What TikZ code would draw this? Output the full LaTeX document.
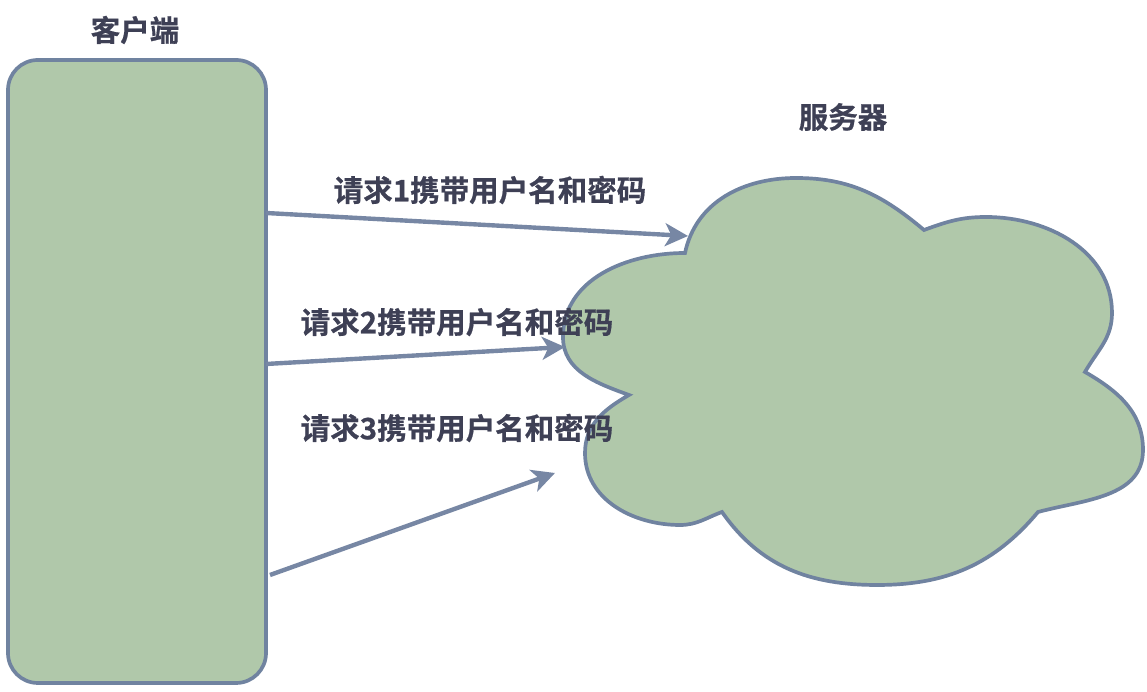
\documentclass[tikz,border=0pt]{standalone}
\usepackage{fontspec}
\setmainfont{Noto Sans CJK SC}[BoldFont={Noto Sans CJK SC Bold}]
\newfontfamily\cjk{Noto Sans CJK SC}[BoldFont={Noto Sans CJK SC Bold},BoldFeatures={FakeBold=0.6}]
\usetikzlibrary{arrows.meta}
\definecolor{boxfill}{HTML}{B0C8AA}
\definecolor{boxline}{HTML}{7083A0}
\definecolor{arrowc}{HTML}{7787A4}
\definecolor{txt}{HTML}{3E4055}
\begin{document}
\begin{tikzpicture}[x=0.02cm,y=0.02cm,
  lbl/.style={font=\cjk\bfseries\fontsize{16.8pt}{18pt}\selectfont, text=txt, inner sep=0pt},
  client/.style={draw=boxline, fill=boxfill, line width=2.1pt, rounded corners=17pt, minimum width=258*0.02cm, minimum height=623*0.02cm, inner sep=0pt},
  cloudsty/.style={draw=boxline, fill=boxfill, line width=2.1pt, line join=miter},
  req/.style={draw=arrowc, line width=2.5pt, -{Stealth[length=13pt,width=13pt,inset=3.5pt]}}]
\useasboundingbox (0,0) rectangle (1147,692);
% client
\node[client] (client) at (137,320.5) {};
\node[lbl] (clientlbl) at (135,662) {客户端};
% cloud
\draw[cloudsty] (685,439) to[out=78,in=180] (796,514) to[out=0,in=140] (924,462)
  to[out=20,in=180] (986,475) to[out=0,in=90] (1112,379)
  to[out=-90,in=60] (1085,320) to[out=-30,in=90] (1143,242)
  to[out=-90,in=15] (1038,180) to[out=230,in=0] (877,107)
  to[out=180,in=-55] (722,180) to[out=200,in=0] (680,167)
  to[out=180,in=-90] (585,239) to[out=90,in=210] (629,297)
  to[out=160,in=-90] (563,355) to[out=90,in=180] cycle;
\node[lbl] (serverlbl) at (843,575) {服务器};
% arrow ends
\coordinate (s1) at (266,479);
\coordinate (t1) at (688,456);
\coordinate (s2) at (266,328);
\coordinate (t2) at (565,345);
\coordinate (s3) at (270,117);
\coordinate (t3) at (555,219);
\draw[req] (s1) -- (t1);
\draw[req] (s2) -- (t2);
\draw[req] (s3) -- (t3);
\node[lbl] (l1) at (490,502) {请求1携带用户名和密码};
\node[lbl] (l2) at (457,370) {请求2携带用户名和密码};
\node[lbl] (l3) at (457,264) {请求3携带用户名和密码};
\end{tikzpicture}
\end{document}
